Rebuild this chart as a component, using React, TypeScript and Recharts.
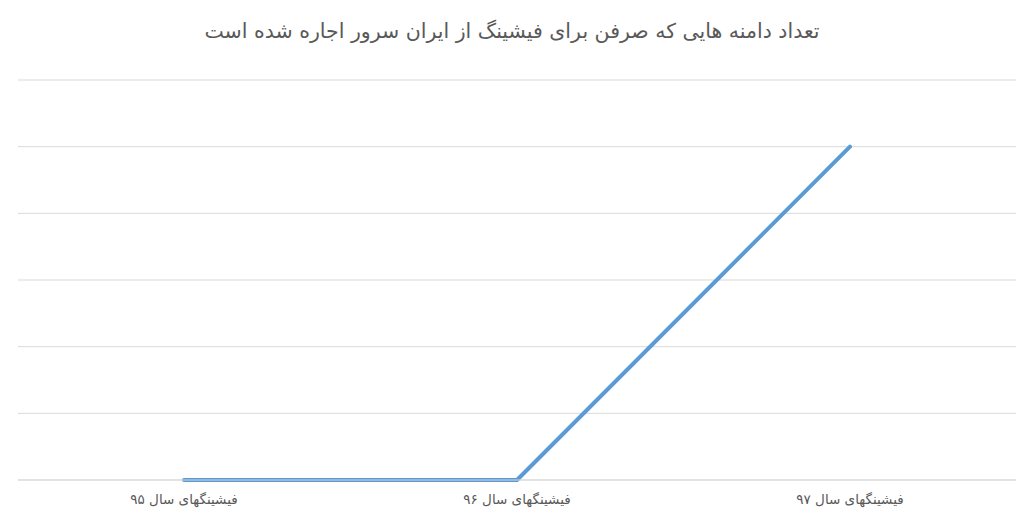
import React from "react";
import { LineChart, Line, XAxis, YAxis, CartesianGrid } from "recharts";

const categories = ["فیشینگهای سال ۹۵", "فیشینگهای سال ۹۶", "فیشینگهای سال ۹۷"];
const values = [0, 0, 5];
const yTicks = [0, 1, 2, 3, 4, 5, 6];
const title = "تعداد دامنه هایی که صرفن برای فیشینگ از ایران سرور اجاره شده است";

const data = categories.map((c, i) => ({ name: c, value: values[i] }));

export default function App() {
  return (
    <div style={{ position: "absolute", left: 0, top: 0, width: 1024, height: 522, background: "#fff", fontFamily: "'DejaVu Sans', 'Noto Sans', sans-serif" }}>
      <div style={{ position: "absolute", top: 19, left: 0, width: 1024, textAlign: "center", fontSize: 20.5, color: "#595959", direction: "rtl" }}>
        {title}
      </div>
      <LineChart width={1024} height={522} data={data} margin={{ top: 80, right: 8, bottom: 12, left: 18 }}>
        <CartesianGrid vertical={false} stroke="#d9d9d9" strokeWidth={1} />
        <XAxis
          dataKey="name"
          height={30}
          axisLine={{ stroke: "#d9d9d9" }}
          tickLine={false}
          padding={{ left: 166, right: 166 }}
          tick={{ fill: "#595959", fontSize: 13.5 }}
          tickMargin={8}
          interval={0}
        />
        <YAxis hide domain={[0, 6]} ticks={yTicks} />
        <Line type="linear" dataKey="value" stroke="#5b9bd5" strokeWidth={4} dot={false} isAnimationActive={false} strokeLinejoin="round" strokeLinecap="round" />
      </LineChart>
    </div>
  );
}
